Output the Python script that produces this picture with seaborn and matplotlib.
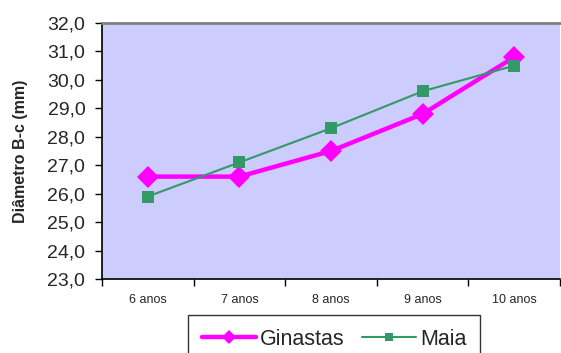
import matplotlib
matplotlib.use("Agg")
import matplotlib.pyplot as plt
import seaborn as sns
import pandas as pd
from matplotlib.ticker import FixedLocator, NullFormatter, FuncFormatter

# Age groups and mean diameter per group
idades = ["6 anos", "7 anos", "8 anos", "9 anos", "10 anos"]
ginastas = [26.6, 26.6, 27.5, 28.8, 30.8]
maia = [25.9, 27.1, 28.3, 29.6, 30.5]
y_ticks = [23, 24, 25, 26, 27, 28, 29, 30, 31, 32]

sns.set_theme(style="white")
plt.rcParams["font.family"] = ["Liberation Sans", "DejaVu Sans"]

df = pd.DataFrame({
    "idade": idades * 2,
    "pos": list(range(len(idades))) * 2,
    "diametro": ginastas + maia,
    "grupo": ["Ginastas"] * len(idades) + ["Maia"] * len(idades),
})

fig = plt.figure(figsize=(5.61, 3.53), dpi=100)
ax = fig.add_axes([102 / 561, 1 - 279 / 353, 458 / 561, 256 / 353])
ax.set_facecolor("#CCCCFF")

sns.lineplot(data=df[df.grupo == "Ginastas"], x="pos", y="diametro", ax=ax,
             color="#FF00FF", linewidth=3.2, marker="D", markersize=11,
             markeredgewidth=0, label="Ginastas")
sns.lineplot(data=df[df.grupo == "Maia"], x="pos", y="diametro", ax=ax,
             color="#339966", linewidth=1.5, marker="s", markersize=8,
             markeredgewidth=0, label="Maia")

ax.set_xlim(-0.5, len(idades) - 0.5)
ax.set_ylim(23, 32)
ax.set_yticks(y_ticks)
ax.yaxis.set_major_formatter(FuncFormatter(lambda v, p: f"{v:.1f}".replace(".", ",")))
ax.tick_params(axis="y", direction="out", length=5, width=1, color="black",
               labelsize=14, pad=7, left=True)

# category boundaries as tick marks, names centred between them
ax.xaxis.set_major_locator(FixedLocator([i - 0.5 for i in range(len(idades) + 1)]))
ax.xaxis.set_major_formatter(NullFormatter())
ax.xaxis.set_minor_locator(FixedLocator(range(len(idades))))
ax.set_xticklabels(idades, minor=True)
ax.tick_params(axis="x", which="major", direction="out", length=5, width=1,
               color="black", bottom=True)
ax.tick_params(axis="x", which="minor", length=0, labelsize=9, pad=11)

ax.set_xlabel("")
ax.set_ylabel("Diâmetro B-c (mm)", fontsize=11.5, fontweight="heavy", labelpad=14)

for side in ["left", "bottom"]:
    ax.spines[side].set_color("black")
    ax.spines[side].set_linewidth(1.2)
ax.spines["top"].set_color("#808080")
ax.spines["top"].set_linewidth(2)
ax.spines["right"].set_visible(False)

leg = ax.legend(loc="upper left", bbox_to_anchor=(188 / 561, 1 - 315 / 353),
                bbox_transform=fig.transFigure, ncol=2, fontsize=15.5,
                frameon=True, fancybox=False, edgecolor="black",
                handlelength=2.5, columnspacing=0.8, handletextpad=0.2,
                borderpad=0.65, borderaxespad=0, markerscale=0.65)
leg.get_frame().set_linewidth(1.0)

fig.savefig("out.png", dpi=100)
